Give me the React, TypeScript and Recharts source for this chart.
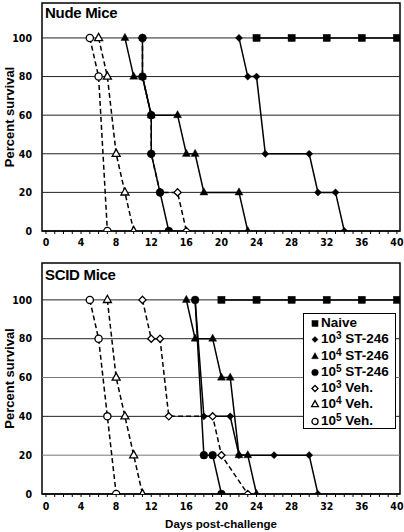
import { Line, LineChart, ReferenceArea, ReferenceLine, XAxis, YAxis } from "recharts";

type Pt = [number, number];

// Nude mice: [day, percent survival]
const nudeNaive: Pt[] = [[24, 100], [28, 100], [32, 100], [36, 100], [40, 100]];
const nudeSt3: Pt[] = [[22, 100], [23, 80], [24, 80], [25, 40], [30, 40], [31, 20], [33, 20], [34, 0]];
const nudeSt4: Pt[] = [[9, 100], [10, 80], [11, 80], [12, 60], [15, 60], [16, 40], [17, 40], [18, 20], [22, 20], [23, 0]];
const nudeSt5: Pt[] = [[11, 100], [11, 80], [12, 60], [12, 40], [13, 20], [14, 0]];
const nudeVeh3: Pt[] = [[11, 100], [11, 80], [12, 60], [12, 40], [13, 20], [15, 20], [16, 0]];
const nudeVeh4: Pt[] = [[6, 100], [7, 80], [8, 40], [9, 20], [10, 0]];
const nudeVeh5: Pt[] = [[5, 100], [6, 80], [7, 0]];

// SCID mice
const scidNaive: Pt[] = [[20, 100], [24, 100], [28, 100], [32, 100], [36, 100], [40, 100]];
const scidSt3: Pt[] = [[17, 100], [18, 40], [21, 40], [22, 20], [26, 20], [30, 20], [31, 0]];
const scidSt4: Pt[] = [[16, 100], [17, 80], [19, 80], [20, 60], [21, 60], [22, 20], [23, 20], [24, 0]];
const scidSt5: Pt[] = [[17, 100], [18, 20], [19, 20], [20, 0]];
const scidVeh3: Pt[] = [[11, 100], [12, 80], [13, 80], [14, 40], [19, 40], [20, 20], [23, 0]];
const scidVeh4: Pt[] = [[7, 100], [8, 60], [9, 40], [10, 20], [11, 0]];
const scidVeh5: Pt[] = [[5, 100], [6, 80], [7, 40], [8, 0]];

const X_TICKS = Array.from({ length: 41 }, (_, i) => i);
const Y_TICKS = [0, 20, 40, 60, 80, 100];

const X_MIN = -0.45;
const X_MAX = 40.35;

const FONT = "'Liberation Sans', Arial, sans-serif";
const FONT_TICK = "'Liberation Sans Narrow', 'Arial Narrow', 'DejaVu Sans Condensed', sans-serif";

type Shape = "square" | "diamond" | "triangle" | "circle";

type SeriesDef = {
	key: string;
	base: string;
	exp: string;
	shape: Shape;
	filled: boolean;
	dashed: boolean;
};

// drawing order: vehicle (dashed) first, treated on top
const SERIES: SeriesDef[] = [
	{ key: "veh5", base: "10", exp: "5", shape: "circle", filled: false, dashed: true },
	{ key: "veh4", base: "10", exp: "4", shape: "triangle", filled: false, dashed: true },
	{ key: "veh3", base: "10", exp: "3", shape: "diamond", filled: false, dashed: true },
	{ key: "st5", base: "10", exp: "5", shape: "circle", filled: true, dashed: false },
	{ key: "st4", base: "10", exp: "4", shape: "triangle", filled: true, dashed: false },
	{ key: "st3", base: "10", exp: "3", shape: "diamond", filled: true, dashed: false },
	{ key: "naive", base: "", exp: "", shape: "square", filled: true, dashed: false }
];

const LEGEND_ORDER = ["naive", "st3", "st4", "st5", "veh3", "veh4", "veh5"];

const NUDE: Record<string, Pt[]> = {
	naive: nudeNaive, st3: nudeSt3, st4: nudeSt4, st5: nudeSt5,
	veh3: nudeVeh3, veh4: nudeVeh4, veh5: nudeVeh5
};
const SCID: Record<string, Pt[]> = {
	naive: scidNaive, st3: scidSt3, st4: scidSt4, st5: scidSt5,
	veh3: scidVeh3, veh4: scidVeh4, veh5: scidVeh5
};

function Marker({ cx, cy, shape, filled, scale = 1 }: { cx?: number; cy?: number; shape: Shape; filled: boolean; scale?: number }) {
	if (cx == null || cy == null) return null;
	const fill = filled ? "#000" : "#fff";
	const sw = filled ? 0.4 : 1.3;
	const s = scale;
	if (shape === "square") {
		return <rect x={cx - 3.6 * s} y={cy - 3.6 * s} width={7.2 * s} height={7.2 * s} fill={fill} stroke="#000" strokeWidth={sw} />;
	}
	if (shape === "diamond") {
		const r = 3.6 * s;
		return <polygon points={`${cx},${cy - r} ${cx + r},${cy} ${cx},${cy + r} ${cx - r},${cy}`} fill={fill} stroke="#000" strokeWidth={sw} />;
	}
	if (shape === "triangle") {
		return (
			<polygon
				points={`${cx},${cy - 4.6 * s} ${cx + 4 * s},${cy + 2.6 * s} ${cx - 4 * s},${cy + 2.6 * s}`}
				fill={fill}
				stroke="#000"
				strokeWidth={sw}
			/>
		);
	}
	return <circle cx={cx} cy={cy} r={filled ? 3.9 * s : 3.6 * s} fill={fill} stroke="#000" strokeWidth={sw} />;
}

function YLabel(props: any) {
	const vb = props.viewBox || { y: 0, height: 0 };
	const cy = vb.y + vb.height / 2;
	return (
		<text
			x={9}
			y={cy}
			transform={`rotate(-90, 9, ${cy})`}
			textAnchor="middle"
			dominantBaseline="central"
			fontFamily={FONT}
			fontWeight={700}
			fontSize={13}
			fill="#000"
		>
			Percent survival
		</text>
	);
}

function XLabel(props: any) {
	const vb = props.viewBox || { x: 0, y: 0, width: 0 };
	return (
		<text
			x={vb.x + vb.width / 2}
			y={vb.y + 34}
			textAnchor="middle"
			fontFamily={FONT}
			fontWeight={700}
			fontSize={11.5}
			fill="#000"
		>
			Days post-challenge
		</text>
	);
}

function Legend() {
	return (
		<div
			style={{
				position: "absolute",
				left: 303,
				top: 58,
				width: 91,
				height: 113,
				border: "1.5px solid #000",
				background: "#fff",
				fontFamily: FONT,
				fontWeight: 700,
				fontSize: 13.5,
				color: "#000",
				paddingTop: 1
			}}
		>
			{LEGEND_ORDER.map((k) => {
				const s = SERIES.find((d) => d.key === k)!;
				const label = k === "naive" ? "Naive" : k.startsWith("st") ? "ST-246" : "Veh.";
				return (
					<div key={k} style={{ height: 16.3, lineHeight: "16.3px", position: "relative", whiteSpace: "nowrap" }}>
						<svg width={12} height={16} style={{ position: "absolute", left: 5, top: 0 }}>
							<Marker cx={6} cy={8.5} shape={s.shape} filled={s.filled} scale={0.85} />
						</svg>
						<span style={{ position: "absolute", left: 17 }}>
							{s.base}
							{s.exp && (
								<span style={{ fontSize: 10, position: "relative", top: -4 }}>{s.exp}</span>
							)}
							{k === "naive" ? label : " " + label}
						</span>
					</div>
				);
			})}
		</div>
	);
}

type PanelProps = {
	title: string;
	series: Record<string, Pt[]>;
	height: number;
	top: number;
	xAxisHeight: number;
	yMax: number;
	tickMargin: number;
	gridColors: Record<number, string>;
	showXLabel?: boolean;
	showLegend?: boolean;
	titleTop: number;
};

function Panel({ title, series, height, top, xAxisHeight, yMax, tickMargin, gridColors, showXLabel, showLegend, titleTop }: PanelProps) {
	const tickStyle = { fontSize: 10.5, fontWeight: 700, fill: "#000", fontFamily: FONT_TICK };
	return (
		<div style={{ position: "relative", width: 404, height }}>
			<LineChart width={404} height={height} margin={{ top, right: 4, left: 0, bottom: 0 }}>
				<XAxis
					type="number"
					dataKey="day"
					domain={[X_MIN, X_MAX]}
					allowDataOverflow
					ticks={X_TICKS}
					interval={0}
					tickFormatter={(v: number) => (v % 4 === 0 ? String(v) : "")}
					tickSize={3}
					tickMargin={tickMargin}
					height={xAxisHeight}
					tick={tickStyle}
					axisLine={{ stroke: "#000" }}
					tickLine={{ stroke: "#000" }}
					label={showXLabel ? <XLabel /> : undefined}
				/>
				<YAxis
					type="number"
					dataKey="pct"
					domain={[0, yMax]}
					allowDataOverflow
					ticks={Y_TICKS}
					width={42}
					tickSize={0}
					tickMargin={10}
					axisLine={false}
					tick={tickStyle}
					label={<YLabel />}
				/>
				{Y_TICKS.map((v) => (
					<ReferenceLine key={v} y={v} stroke={gridColors[v] ?? "#222"} strokeWidth={1} />
				))}
				<ReferenceArea x1={X_MIN} x2={X_MAX} y1={0} y2={yMax} fill="none" stroke="#000" strokeWidth={1.5} ifOverflow="visible" />
				{SERIES.map((s) => (
					<Line
						key={s.key}
						data={series[s.key].map(([day, pct]) => ({ day, pct }))}
						dataKey="pct"
						type="linear"
						stroke="#000"
						strokeWidth={1.5}
						strokeDasharray={s.dashed ? "5 3" : undefined}
						isAnimationActive={false}
						dot={(p: any) => <Marker key={`${s.key}-${p.index}`} cx={p.cx} cy={p.cy} shape={s.shape} filled={s.filled} />}
						activeDot={false}
					/>
				))}
			</LineChart>
			<div
				style={{
					position: "absolute",
					left: 45,
					top: titleTop,
					fontFamily: FONT,
					fontWeight: 700,
					fontSize: 15,
					lineHeight: "15px",
					color: "#000",
					letterSpacing: -0.3
				}}
			>
				{title}
			</div>
			{showLegend && <Legend />}
		</div>
	);
}

export default function App() {
	return (
		<div style={{ width: 404, height: 532, background: "#fff" }}>
			<style>{"body{margin:0;background:#fff}"}</style>
			<Panel
				title="Nude Mice"
				series={NUDE}
				height={255}
				top={3}
				xAxisHeight={24}
				yMax={118.1}
				tickMargin={5}
				gridColors={{}}
				titleTop={4.5}
			/>
			<Panel
				title="SCID Mice"
				series={SCID}
				height={277}
				top={8}
				xAxisHeight={38}
				yMax={119}
				tickMargin={6}
				gridColors={{ 20: "#777", 60: "#777" }}
				showXLabel
				showLegend
				titleTop={11.5}
			/>
		</div>
	);
}
